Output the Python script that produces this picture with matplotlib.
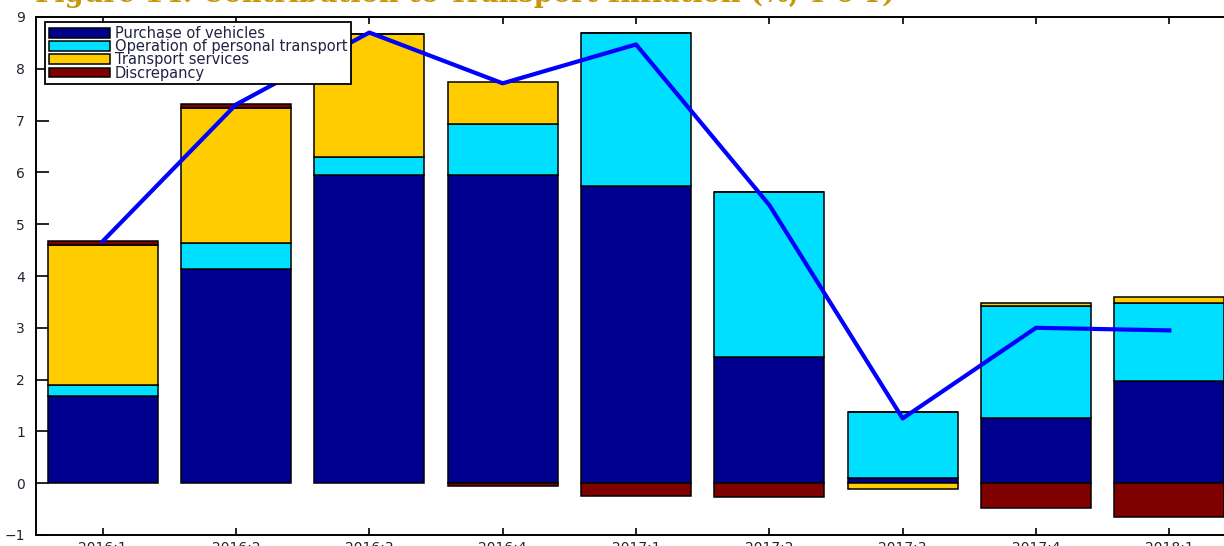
import numpy as np
import matplotlib
matplotlib.use("Agg")
import matplotlib.pyplot as plt

# quarters on the x axis
quarters = ["2016:1", "2016:2", "2016:3", "2016:4", "2017:1",
            "2017:2", "2017:3", "2017:4", "2018:1"]

# contributions (percentage points)
purchase = [1.68, 4.13, 5.95, 5.95, 5.73, 2.43, 0.10, 1.26, 1.98]
operation = [0.21, 0.50, 0.34, 0.98, 2.96, 3.19, 1.27, 2.17, 1.49]
services = [2.71, 2.61, 2.38, 0.81, 0.00, 0.00, -0.12, 0.05, 0.12]
discrepancy = [0.07, 0.08, 0.00, -0.05, -0.25, -0.27, 0.00, -0.48, -0.65]

# total transport inflation (line)
total = [4.67, 7.31, 8.70, 7.72, 8.47, 5.37, 1.25, 3.00, 2.95]

series = [
    ("Purchase of vehicles", purchase, "#00008f"),
    ("Operation of personal transport", operation, "#00dfff"),
    ("Transport services", services, "#ffcc00"),
    ("Discrepancy", discrepancy, "#800000"),
]

plt.rcParams['font.family'] = ['DejaVu Sans']

fig = plt.figure(figsize=(12.24, 5.46), dpi=100)
# the original is a cropped screenshot: axes run past the right edge
ax = fig.add_axes([36 / 1224, 11 / 546, 1200 / 1224, 518 / 546])

x = np.arange(1, len(quarters) + 1)
pos_base = np.zeros(len(x))
neg_base = np.zeros(len(x))
for label, vals, color in series:
    vals = np.array(vals)
    base = np.where(vals >= 0, pos_base, neg_base)
    ax.bar(x, vals, width=0.825, bottom=base, color=color,
           edgecolor="black", linewidth=1.1, label=label, zorder=2)
    pos_base += np.where(vals >= 0, vals, 0)
    neg_base += np.where(vals < 0, vals, 0)

ax.plot(x, total, color="#0000ff", linewidth=3, zorder=3)

ax.set_xlim(0.5, 9.5)
ax.set_ylim(-1, 9)
ax.set_yticks(range(-1, 10))
ax.set_xticks(x)
ax.set_xticklabels(quarters)
ax.tick_params(axis="both", direction="in", labelsize=10,
               labelcolor="#222233", width=1.2)
ax.tick_params(axis="y", length=9, pad=8)
ax.tick_params(axis="x", length=5, pad=4, top=True)
for s in ax.spines.values():
    s.set_linewidth(1.4)

leg = ax.legend(loc="upper left", bbox_to_anchor=(0.0075, 0.99),
                borderaxespad=0, fontsize=10.5, frameon=True, fancybox=False,
                framealpha=1, handlelength=4.2, handleheight=0.65,
                labelspacing=-0.12, handletextpad=0.35, borderpad=0.25)
leg.get_frame().set_edgecolor("black")
leg.get_frame().set_linewidth(1.3)
for t in leg.get_texts():
    t.set_color("#222244")
leg.set_zorder(5)

fig.text(35 / 1224, 1 - 2 / 546,
         "Figure 14: Contribution to Transport Inflation (%, Y-o-Y)",
         color="#c8960a", fontsize=19.6, fontweight="bold",
         family="DejaVu Serif", va="baseline", ha="left")

fig.savefig("out.png", dpi=100)
